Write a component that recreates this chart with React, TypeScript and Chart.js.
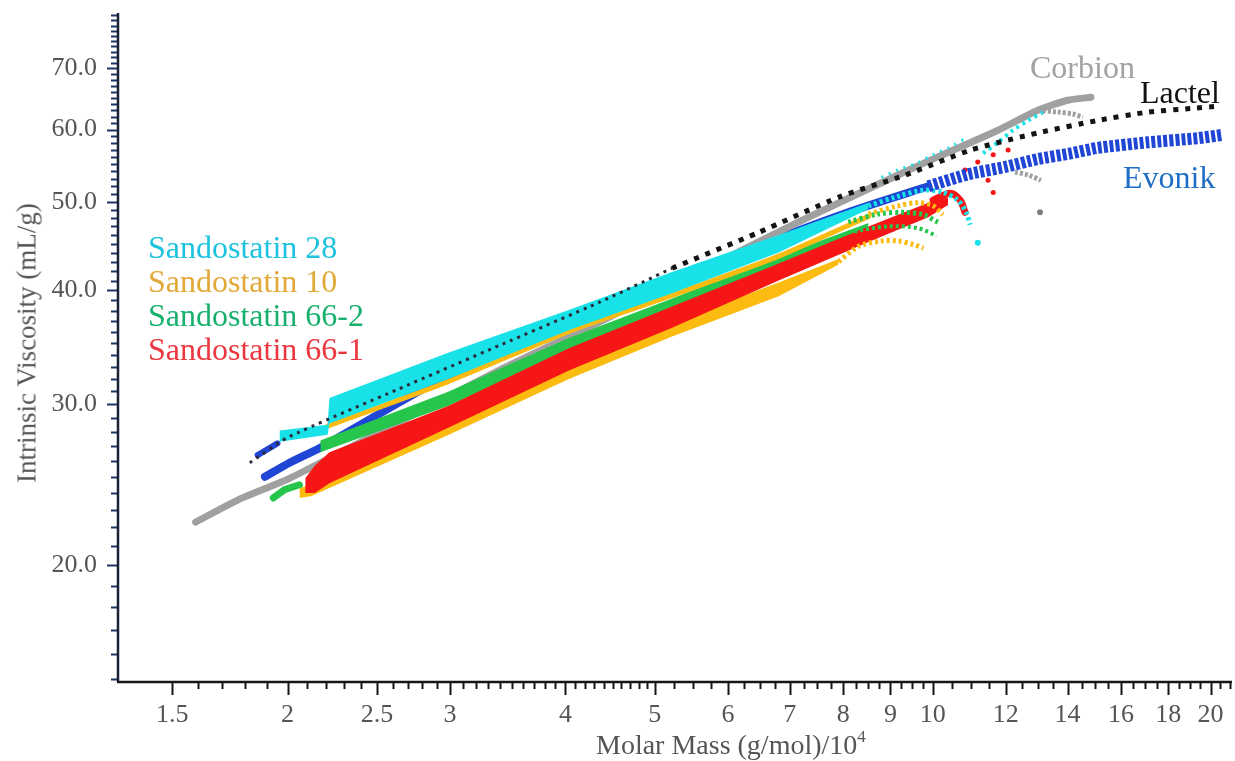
import React, { useEffect, useRef } from 'react';
import { Chart, registerables } from 'chart.js';

Chart.register(...registerables);

type P = [number, number];

// ---------- axis ticks ----------
const X_LABELS = [1.5, 2, 2.5, 3, 4, 5, 6, 7, 8, 9, 10, 12, 14, 16, 18, 20];
const X_MINOR = [
  1.6, 1.7, 1.8, 1.9, 2.1, 2.2, 2.3, 2.4, 2.6, 2.7, 2.8, 2.9,
  3.1, 3.2, 3.3, 3.4, 3.5, 3.6, 3.7, 3.8, 3.9, 4.1, 4.2, 4.3, 4.4, 4.5, 4.6, 4.7, 4.8, 4.9,
  5.25, 5.5, 5.75, 6.25, 6.5, 6.75, 7.25, 7.5, 7.75, 8.25, 8.5, 8.75, 9.25, 9.5, 9.75,
  10.5, 11, 11.5, 12.5, 13, 13.5, 14.5, 15, 15.5, 16.5, 17, 17.5, 18.5, 19, 19.5, 20.5, 21,
];
const Y_LABELS = [20, 30, 40, 50, 60, 70];
const Y_MINOR = [
  15, 16, 17, 18, 19, 21, 22, 23, 24, 25, 26, 27, 28, 29, 31, 32, 33, 34, 35, 36, 37, 38, 39,
  41, 42, 43, 44, 45, 46, 47, 48, 49, 51, 52, 53, 54, 55, 56, 57, 58, 59,
  61, 62, 63, 64, 65, 66, 67, 68, 69, 71, 72, 73, 74, 75, 76, 77, 78, 79, 80,
];

// ---------- Corbion (grey) ----------
const corbionMain: P[] = [
  [1.59, 22.3], [1.77, 23.6], [2.01, 24.9], [2.64, 28.7], [3.39, 32.7], [4.35, 36.9],
  [5.58, 41.9], [7.15, 47.5], [9.17, 53.5], [10.13, 56.0], [11.77, 59.9], [13.0, 63.0],
  [14.0, 64.6], [14.84, 65.1],
];
const corbionHookA: P[] = [[13.0, 63.0], [13.67, 62.7], [14.19, 62.4], [14.54, 61.9]];
const corbionHookB: P[] = [[12.28, 53.9], [12.69, 53.5], [13.1, 52.8]];
const corbionDots: P[] = [[13.07, 48.7]];

// ---------- Lactel (black) ----------
const lactelLow: P[] = [[1.82, 25.9], [2.0, 27.6], [2.64, 31.2], [3.39, 34.8], [4.35, 38.8], [5.22, 42.3]];
const lactelHigh: P[] = [
  [5.22, 42.3], [6.48, 46.3], [7.91, 50.6], [9.34, 53.5], [11.0, 57.0], [13.0, 59.5],
  [15.1, 61.4], [17.1, 62.7], [19.12, 63.3], [20.45, 63.65],
];

// ---------- Evonik (blue) ----------
const evonikMain: P[] = [
  [1.89, 25.0], [2.01, 25.9], [2.17, 26.9], [2.99, 32.3], [4.35, 37.9], [6.32, 44.3],
  [8.1, 48.7], [9.89, 52.0],
];
const evonikCoil: P[] = [
  [9.89, 52.0], [10.92, 53.6], [11.98, 54.6], [13.0, 55.7], [14.11, 56.5], [15.1, 57.3],
  [17.1, 58.1], [19.36, 58.7], [20.6, 59.2],
];
const evonikStub: P[] = [[1.856, 26.4], [1.95, 27.2]];

// ---------- Sandostatin 28 (cyan) ----------
const s28M = [1.96, 2.21, 2.22, 2.99, 4.04, 5.22, 6.81, 8.52];
const s28Upper = [28.1, 28.5, 30.5, 34.2, 38.1, 41.9, 46.0, 49.9];
const s28Lower = [27.3, 27.8, 28.6, 32.0, 36.2, 39.7, 44.0, 49.1];
const s28TailA: P[] = [[8.8, 53.2], [9.17, 54.2], [9.6, 55.1], [10.01, 56.3], [10.44, 57.4], [10.92, 58.9]];
const s28TailB: P[] = [[11.34, 56.5], [11.77, 58.1], [12.22, 59.9], [12.69, 61.4], [13.17, 62.7]];
const s28Hook: P[] = [[8.52, 49.5], [9.17, 50.7], [9.77, 51.5], [10.26, 51.2], [10.65, 50.2], [10.87, 48.7], [10.98, 47.2]];
const s28Dots: P[] = [[11.19, 45.1]];

// ---------- Sandostatin 10 (gold) ----------
const s10Thin: P[] = [[2.21, 28.4], [2.99, 31.8], [4.04, 36.1], [5.22, 39.5], [6.81, 43.6], [8.52, 48.2]];
const s10Arc: P[] = [[8.52, 48.5], [9.17, 49.5], [9.64, 49.9], [10.01, 49.5], [10.26, 48.4]];
const s10LowM = [2.06, 2.12, 2.99, 4.04, 5.22, 6.81, 7.91];
const s10LowUpper = [24.3, 24.5, 28.8, 33.4, 36.9, 40.8, 43.3];
const s10LowLower = [23.7, 23.8, 27.8, 32.0, 35.6, 39.4, 42.7];
const s10LowArc: P[] = [[7.91, 43.0], [8.31, 44.7], [8.8, 45.3], [9.17, 45.3], [9.53, 44.9], [9.77, 44.5]];

// ---------- Sandostatin 66-1 (red) ----------
const s661M = [2.09, 2.14, 2.22, 2.99, 4.04, 5.22, 6.81, 8.52, 9.89, 10.39];
const s661Upper = [24.9, 25.7, 26.6, 29.9, 34.6, 38.4, 42.8, 47.0, 49.9, 50.6];
const s661Lower = [24.0, 24.0, 24.6, 28.3, 32.7, 36.4, 41.0, 45.2, 48.1, 49.6];
const s661Hook: P[] = [[10.01, 50.2], [10.44, 51.1], [10.71, 50.2], [10.84, 48.7]];
const s661Dots: P[] = [[10.84, 54.2], [11.19, 55.3], [11.63, 56.3], [12.07, 57.0], [11.48, 52.8], [11.63, 51.2]];

// ---------- Sandostatin 66-2 (green) ----------
const s662M = [2.17, 2.99, 4.04, 5.22, 6.81, 8.52];
const s662Upper = [27.4, 31.0, 35.5, 39.2, 43.6, 47.4];
const s662Lower = [26.6, 29.9, 34.4, 38.1, 42.5, 46.9];
const s662Start: P[] = [[1.93, 23.7], [1.985, 24.2], [2.06, 24.5]];
const s662ArcA: P[] = [[8.1, 47.5], [8.73, 48.5], [9.29, 48.7], [9.77, 48.4], [10.13, 47.5]];
const s662ArcB: P[] = [[8.1, 46.3], [8.95, 47.0], [9.64, 46.8], [10.09, 45.9]];

// ---------- colours ----------
const C_CYAN = '#18e2e8';
const C_GOLD = '#fbbb10';
const C_RED = '#f71616';
const C_GREEN = '#26c64c';
const C_GREY = '#a0a0a0';
const C_BLACK = '#141414';
const C_BLUE = '#1f46d4';

const FONT = '"Liberation Serif", "Times New Roman", serif';

const pts = (arr: P[]) => arr.map(([x, y]) => ({ x, y }));
const zip = (ms: number[], vs: number[]) => ms.map((m, i) => ({ x: m, y: vs[i] }));

function band(ms: number[], up: number[], lo: number[], color: string, order: number) {
  return [
    { type: 'line', data: zip(ms, up), borderWidth: 0, borderColor: 'rgba(0,0,0,0)', pointRadius: 0, fill: false, order, tension: 0 },
    { type: 'line', data: zip(ms, lo), borderWidth: 0, borderColor: 'rgba(0,0,0,0)', pointRadius: 0, fill: '-1', backgroundColor: color, order, tension: 0 },
  ];
}
function line(arr: P[], color: string, width: number, order: number, dash: number[] = [], tension = 0.3) {
  return {
    type: 'line', data: pts(arr), borderColor: color, borderWidth: width, pointRadius: 0,
    fill: false, order, borderDash: dash, tension, borderCapStyle: dash.length ? 'butt' : 'round',
  };
}
function dots(arr: P[], color: string, r: number, order: number) {
  return {
    type: 'line', data: pts(arr), showLine: false, pointRadius: r, pointBackgroundColor: color,
    pointBorderWidth: 0, borderColor: color, fill: false, order,
  };
}

const tickPlugin = {
  id: 'customTicks',
  afterDraw(chart: any) {
    const { ctx, chartArea: a, scales } = chart;
    const x = scales.x;
    const y = scales.y;
    ctx.save();
    ctx.strokeStyle = '#1d3566';
    ctx.lineWidth = 2;
    const yt = [...Y_LABELS.map((v) => [v, 11]), ...Y_MINOR.map((v) => [v, 7])];
    yt.forEach(([v, len]) => {
      const py = Math.round(y.getPixelForValue(v)) + 0.5;
      if (py < a.top - 1 || py > a.bottom) return;
      ctx.beginPath();
      ctx.moveTo(a.left - len, py);
      ctx.lineTo(a.left, py);
      ctx.stroke();
    });
    ctx.strokeStyle = '#151515';
    const xt = [...X_LABELS.map((v) => [v, 13]), ...X_MINOR.map((v) => [v, 7])];
    xt.forEach(([v, len]) => {
      const px = Math.round(x.getPixelForValue(v)) + 0.5;
      if (px < a.left || px > a.right) return;
      ctx.beginPath();
      ctx.moveTo(px, a.bottom);
      ctx.lineTo(px, a.bottom + len);
      ctx.stroke();
    });
    ctx.lineWidth = 2.5;
    ctx.strokeStyle = '#1a2036';
    ctx.beginPath();
    ctx.moveTo(a.left, a.top);
    ctx.lineTo(a.left, a.bottom);
    ctx.stroke();
    ctx.strokeStyle = '#151515';
    ctx.beginPath();
    ctx.moveTo(a.left - 1, a.bottom);
    ctx.lineTo(a.right, a.bottom);
    ctx.stroke();
    ctx.restore();
  },
};

export default function App() {
  const ref = useRef<HTMLCanvasElement | null>(null);

  useEffect(() => {
    if (!ref.current) return;
    const datasets: any[] = [
      line(evonikMain, C_BLUE, 8, 30, [], 0.2),
      line(evonikStub, C_BLUE, 6, 30, [], 0),
      line(corbionMain, C_GREY, 7, 29, [], 0.2),
      ...band(s10LowM, s10LowUpper, s10LowLower, C_GOLD, 25),
      ...band(s662M, s662Upper, s662Lower, C_GREEN, 24),
      line(s662Start, C_GREEN, 7, 24, [], 0),
      ...band(s661M, s661Upper, s661Lower, C_RED, 22),
      line(s10Thin, C_GOLD, 5, 21, [], 0.2),
      ...band(s28M, s28Upper, s28Lower, C_CYAN, 20),
      line(s10LowArc, C_GOLD, 5, 15, [3, 3]),
      line(s10Arc, C_GOLD, 5, 15, [3, 3]),
      line(s662ArcA, C_GREEN, 5, 15, [3, 3]),
      line(s662ArcB, C_GREEN, 4, 15, [3, 3]),
      line(s661Hook, C_RED, 7, 12, []),
      dots(s661Dots, C_RED, 2.5, 12),
      line(s28Hook, C_CYAN, 5, 11, [3, 3]),
      line(s28TailA, C_CYAN, 3, 11, [2, 6]),
      line(s28TailB, C_CYAN, 4, 11, [3, 4]),
      dots(s28Dots, C_CYAN, 3, 11),
      line(evonikCoil, C_BLUE, 12, 10, [4, 2], 0.2),
      line(corbionHookA, C_GREY, 5, 9, [3, 2]),
      line(corbionHookB, C_GREY, 5, 9, [3, 2]),
      dots(corbionDots, '#808080', 3, 9),
      line(lactelLow, '#2a2a3a', 3, 2, [3, 5], 0.2),
      line(lactelHigh, C_BLACK, 5, 1, [5, 7], 0.2),
    ];

    const chart = new Chart(ref.current, {
      type: 'line',
      data: { datasets },
      options: {
        animation: false,
        responsive: false,
        maintainAspectRatio: false,
        devicePixelRatio: 1,
        layout: { padding: { top: 13, right: 0, left: 0, bottom: 0 } },
        plugins: { legend: { display: false }, tooltip: { enabled: false } },
        elements: { point: { hoverRadius: 0 } },
        scales: {
          x: {
            type: 'logarithmic',
            min: 1.31,
            max: 21.1,
            afterBuildTicks: (s: any) => { s.ticks = X_LABELS.map((v) => ({ value: v })); },
            afterFit: (s: any) => { s.height = 79; s.paddingLeft = 0; s.paddingRight = 0; },
            ticks: {
              callback: (v: any) => String(v),
              font: { family: FONT, size: 26 },
              color: '#555555',
              padding: 18,
              autoSkip: false,
              maxRotation: 0,
            },
            grid: { display: false, drawTicks: false },
            border: { display: false },
          },
          y: {
            type: 'logarithmic',
            min: 14.9,
            max: 80.5,
            afterBuildTicks: (s: any) => { s.ticks = Y_LABELS.map((v) => ({ value: v })); },
            afterFit: (s: any) => { s.width = 118; s.paddingTop = 0; s.paddingBottom = 0; },
            ticks: {
              callback: (v: any) => Number(v).toFixed(1),
              font: { family: FONT, size: 26 },
              color: '#555555',
              padding: 21,
              autoSkip: false,
            },
            grid: { display: false, drawTicks: false },
            border: { display: false },
          },
        },
      } as any,
      plugins: [tickPlugin],
    } as any);
    return () => chart.destroy();
  }, []);

  const ann = (text: string, left: number, baseline: number, color: string) => (
    <div
      style={{
        position: 'absolute', left, top: baseline - 27, fontSize: 32, lineHeight: '32px',
        color, whiteSpace: 'nowrap', fontFamily: FONT,
      }}
    >
      {text}
    </div>
  );

  return (
    <div style={{ position: 'absolute', left: 0, top: 0, width: 1235, height: 761, background: '#ffffff', overflow: 'hidden', fontFamily: FONT }}>
      <canvas ref={ref} width={1235} height={761} style={{ position: 'absolute', left: 0, top: 0, width: 1235, height: 761 }} />
      {ann('Sandostatin 28', 148, 258, '#1cc2de')}
      {ann('Sandostatin 10', 148, 292, '#e2a838')}
      {ann('Sandostatin 66-2', 148, 326, '#17b06c')}
      {ann('Sandostatin 66-1', 148, 360, '#ec3640')}
      {ann('Corbion', 1030, 78, '#a2a2a2')}
      {ann('Lactel', 1140, 103, '#111111')}
      {ann('Evonik', 1123, 188, '#1f6ec6')}
      <div
        style={{
          position: 'absolute', left: 27, top: 343, transform: 'translate(-50%, -50%) rotate(-90deg)',
          whiteSpace: 'nowrap', fontSize: 27, lineHeight: '27px', color: '#555555', fontFamily: FONT,
        }}
      >
        Intrinsic Viscosity (mL/g)
      </div>
      <div
        style={{
          position: 'absolute', left: 596, top: 731, whiteSpace: 'nowrap', fontSize: 28,
          lineHeight: '28px', color: '#555555', fontFamily: FONT,
        }}
      >
        Molar Mass (g/mol)/10<span style={{ fontSize: 17, position: 'relative', top: -12 }}>4</span>
      </div>
    </div>
  );
}
